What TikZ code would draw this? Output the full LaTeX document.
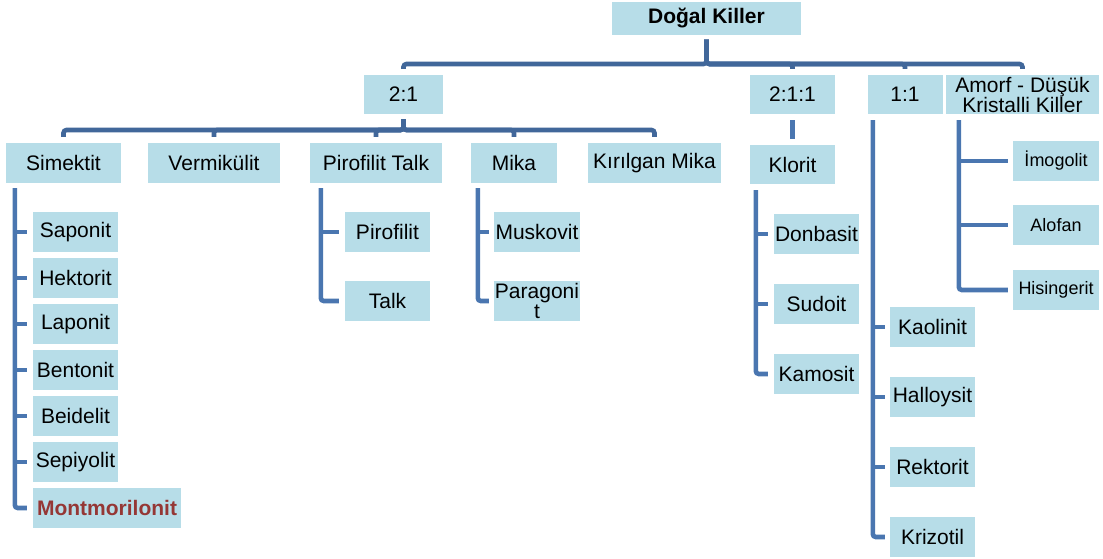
\documentclass[tikz,border=0pt]{standalone}
\usepackage{fontspec}
\setmainfont{Liberation Sans}
\definecolor{boxfill}{HTML}{B7DDE8}
\definecolor{lineA}{HTML}{41679A}
\definecolor{lineB}{HTML}{4A76B0}
\definecolor{mred}{HTML}{953735}
\begin{document}
\begin{tikzpicture}[x=1pt,y=-1pt,
  box/.style={fill=boxfill, draw=none, inner sep=0pt, align=center, minimum height=40pt, font=\fontsize{21}{20}\selectfont},
  sbox/.style={box, font=\fontsize{18}{20}\selectfont},
  connA/.style={draw=lineA, line width=4.6pt, rounded corners=3pt, shorten <=5pt, shorten >=6pt},
  connB/.style={draw=lineB, line width=4.6pt, rounded corners=3pt},
  stub/.style={draw=lineB, line width=4.4pt, shorten >=6pt}]
\useasboundingbox (0,0) rectangle (1103,558);

% level 1
\node[box, minimum width=189pt, minimum height=33pt, font=\fontsize{21}{20}\selectfont\bfseries] (root) at (706.5,18) {Doğal Killer};
% level 2
\node[box, minimum width=79pt, minimum height=39pt] (l21) at (403.5,94.5) {2:1};
\node[box, minimum width=85pt, minimum height=39pt] (l211) at (792.5,94.5) {2:1:1};
\node[box, minimum width=75pt, minimum height=39pt] (l11) at (905,94.5) {1:1};
\node[box, minimum width=153pt, minimum height=39pt] (amorf) at (1022.5,94.5) {Amorf - Düşük\\Kristalli Killer};
% level 3
\node[box, minimum width=115pt] (sim) at (63.5,163) {Simektit};
\node[box, minimum width=132pt] (verm) at (214,163) {Vermikülit};
\node[box, minimum width=132pt] (pt) at (376,163) {Pirofilit Talk};
\node[box, minimum width=86pt] (mika) at (514,163) {Mika};
\node[box, minimum width=133pt] (kir) at (654.5,163) {Kırılgan Mika};
\node[box, minimum width=85pt, minimum height=39pt] (klorit) at (792.5,164.5) {Klorit};
% Simektit children
\node[box, minimum width=85pt] (sap) at (75.5,232) {Saponit};
\node[box, minimum width=85pt] (hek) at (75.5,278) {Hektorit};
\node[box, minimum width=85pt] (lap) at (75.5,324) {Laponit};
\node[box, minimum width=85pt] (ben) at (75.5,370) {Bentonit};
\node[box, minimum width=85pt] (bei) at (75.5,416) {Beidelit};
\node[box, minimum width=85pt] (sep) at (75.5,462) {Sepiyolit};
\node[box, minimum width=148pt, text=mred, font=\fontsize{21}{20}\selectfont\bfseries] (mont) at (107,508) {Montmorilonit};
% Pirofilit Talk children
\node[box, minimum width=85pt] (pir) at (387.5,232) {Pirofilit};
\node[box, minimum width=85pt] (talk) at (387.5,301) {Talk};
% Mika children
\node[box, minimum width=86pt] (musk) at (537,232) {Muskovit};
\node[box, minimum width=86pt] (para) at (537,301) {Paragoni\\t};
% Klorit children
\node[box, minimum width=85pt] (don) at (816.5,234) {Donbasit};
\node[box, minimum width=85pt] (sud) at (816.5,304) {Sudoit};
\node[box, minimum width=85pt] (kam) at (816.5,374) {Kamosit};
% 1:1 children
\node[box, minimum width=85pt] (kao) at (932.5,327) {Kaolinit};
\node[box, minimum width=85pt] (hal) at (932.5,397) {Halloysit};
\node[box, minimum width=85pt] (rek) at (932.5,467) {Rektorit};
\node[box, minimum width=85pt] (kri) at (932.5,537) {Krizotil};
% Amorf children
\node[sbox, minimum width=86pt] (imo) at (1056,161) {İmogolit};
\node[sbox, minimum width=86pt] (alo) at (1056,225) {Alofan};
\node[sbox, minimum width=86pt] (his) at (1056,290) {Hisingerit};

% top bus
\coordinate (bus1) at (0,64);
\foreach \c in {l21,l211,l11,amorf}
  \draw[connA] (root.south) -- (root.south |- bus1) -| (\c.north);
% 2:1 bus
\coordinate (bus2) at (0,130);
\foreach \c in {sim,verm,pt,mika,kir}
  \draw[connA] (l21.south) -- (l21.south |- bus2) -| (\c.north);
% 2:1:1 -> Klorit
\draw[connB, shorten <=6pt, shorten >=6pt] (l211.south) -- (klorit.north);

% Simektit branch
\coordinate (sv) at ([shift={(9,5)}]sim.south west);
\draw[connB] (sv) |- ([xshift=-6pt]mont.west);
\foreach \n in {sap,hek,lap,ben,bei,sep}
  \draw[stub] (sv |- \n.west) -- (\n.west);
% Pirofilit Talk branch
\coordinate (pv) at ([shift={(11,5)}]pt.south west);
\draw[connB] (pv) |- ([xshift=-6pt]talk.west);
\draw[stub] (pv |- pir.west) -- (pir.west);
% Mika branch
\coordinate (mv) at ([shift={(7,5)}]mika.south west);
\draw[connB] (mv) |- ([xshift=-5pt]para.west);
\draw[stub, shorten >=5pt] (mv |- musk.west) -- (musk.west);
% Klorit branch
\coordinate (kv) at ([shift={(6,6)}]klorit.south west);
\draw[connB] (kv) |- ([xshift=-6pt]kam.west);
\foreach \n in {don,sud}
  \draw[stub] (kv |- \n.west) -- (\n.west);
% 1:1 branch
\coordinate (ov) at ([shift={(5.5,6)}]l11.south west);
\draw[connB] (ov) |- ([xshift=-5pt]kri.west);
\foreach \n in {kao,hal,rek}
  \draw[stub, shorten >=5pt] (ov |- \n.west) -- (\n.west);
% Amorf branch
\coordinate (av) at ([shift={(13,6)}]amorf.south west);
\draw[connB] (av) |- ([xshift=-5pt]his.west);
\foreach \n in {imo,alo}
  \draw[stub, shorten >=5pt] (av |- \n.west) -- (\n.west);
\end{tikzpicture}
\end{document}
